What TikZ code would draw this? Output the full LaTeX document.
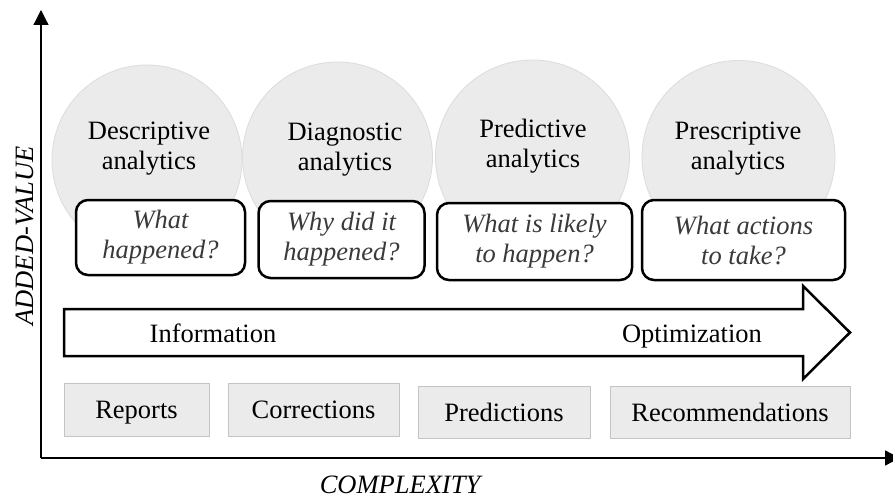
\documentclass[tikz,border=0pt]{standalone}
\usepackage{fontspec}
\setmainfont{Liberation Serif}
\usetikzlibrary{arrows.meta}
\definecolor{circfill}{HTML}{EBEBEB}
\definecolor{circline}{HTML}{DCDCDC}
\definecolor{boxfill}{HTML}{EBEBEB}
\definecolor{boxline}{HTML}{C4C4C4}
\definecolor{qtext}{HTML}{3A3A3A}
\tikzset{
  bigfont/.style={font=\fontsize{26.5}{30}\selectfont},
  circ/.style={circle, fill=circfill, draw=circline, line width=0.8pt, inner sep=0pt},
  circtext/.style={bigfont, align=center, inner sep=0pt, text=black},
  qbox/.style={draw=black, fill=white, line width=2.5pt, rounded corners=12pt, inner sep=0pt,
     bigfont, font=\fontsize{26.5}{30}\selectfont\itshape, text=qtext, align=center},
  outbox/.style={draw=boxline, fill=boxfill, line width=0.8pt, inner sep=0pt,
     bigfont, text height=18pt, text depth=0pt},
  axisline/.style={line width=1.2pt, -{Triangle[length=15pt,width=15pt]}},
}
\begin{document}
\begin{tikzpicture}[x=1pt,y=-1pt]
\clip (0,0) rectangle (893,497);
\fill[white] (0,0) rectangle (893,497);
% axes
\coordinate (origin) at (41,458);
\coordinate (ytop) at (41,10);
\coordinate (xend) at (900,458);
\draw[axisline] (origin) -- (ytop);
\draw[axisline] (origin) -- (xend);
\node[bigfont, font=\fontsize{26.5}{30}\selectfont\itshape, rotate=90, anchor=base, inner sep=0pt] (ylab) at (33,236) {ADDED-VALUE};
\node[bigfont, font=\fontsize{26.5}{30}\selectfont\itshape, anchor=base, inner sep=0pt] (xlab) at (400,493) {COMPLEXITY};
% circles
\node[circ, minimum size=190pt] (c1) at (147,160) {};
\node[circ, minimum size=190pt] (c2) at (337.5,157) {};
\node[circ, minimum size=194pt] (c3) at (532.5,157) {};
\node[circ, minimum size=193pt] (c4) at (738.5,157) {};
\node[circtext] (t1) at (149,149) {Descriptive\\analytics};
\node[circtext] (t2) at (345,150) {Diagnostic\\analytics};
\node[circtext] (t3) at (533,146) {Predictive\\analytics};
\node[circtext] (t4) at (738,149) {Prescriptive\\analytics};
% question boxes
\node[qbox, minimum width=169pt, minimum height=75pt] (q1) at (160.5,237.5) {What\\happened?};
\node[qbox, minimum width=166pt, minimum height=77pt] (q2) at (341.5,239.5) {Why did it\\happened?};
\node[qbox, minimum width=195pt, minimum height=77pt] (q3) at (534.5,241.5) {What is likely\\to happen?};
\node[qbox, minimum width=203pt, minimum height=80pt] (q4) at (743.5,240) {What actions\\to take?};
% big arrow
\draw[line width=2.5pt, fill=white, line join=miter]
  (64,309) -- (803,309) -- (803,286) -- (850,332.5) -- (803,379) -- (803,356) -- (64,356) -- cycle;
\node[bigfont, anchor=base, inner sep=0pt] (info) at (213,342) {Information};
\node[bigfont, anchor=base, inner sep=0pt] (opt) at (692,342) {Optimization};
% bottom boxes
\node[outbox, minimum width=145pt, minimum height=53pt] (b1) at (136.5,409.5) {Reports};
\node[outbox, minimum width=171pt, minimum height=53pt] (b2) at (313.5,409.5) {Corrections};
\node[outbox, minimum width=172pt, minimum height=52pt] (b3) at (504,412) {Predictions};
\node[outbox, minimum width=240pt, minimum height=52pt] (b4) at (730,412) {Recommendations};
\end{tikzpicture}
\end{document}
